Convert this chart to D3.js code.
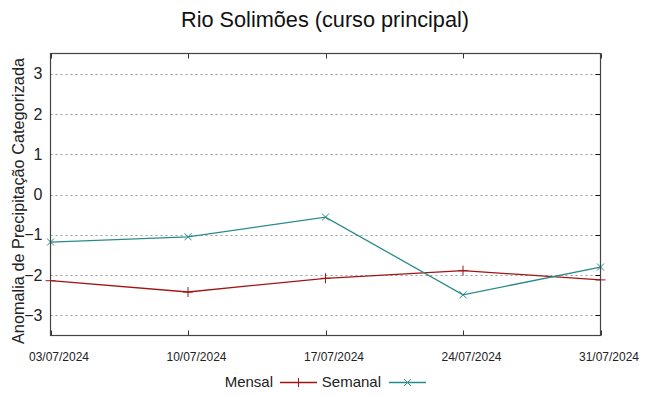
<!DOCTYPE html>
<html>
<head>
<meta charset="utf-8">
<script src="https://cdn.jsdelivr.net/npm/d3@7"></script>
<style>
  html, body { margin: 0; padding: 0; background: #fff; }
  svg { display: block; font-family: "Liberation Sans", Arial, sans-serif; }
</style>
</head>
<body>
<div id="app"></div>
<script>
// dados
const dates = ['03/07/2024', '10/07/2024', '17/07/2024', '24/07/2024', '31/07/2024']
const mensal = [-2.14, -2.42, -2.08, -1.89, -2.12]
const semanal = [-1.18, -1.05, -0.56, -2.49, -1.80]
const yTicks = [-3, -2, -1, 0, 1, 2, 3]
const seriesNames = ['Mensal', 'Semanal']

const width = 649
const height = 396
const margin = { top: 53.5, right: 48.5, bottom: 60.5, left: 50.5 }

const parse = d3.timeParse('%d/%m/%Y')
const fmt = d3.timeFormat('%d/%m/%Y')
const xDates = dates.map(parse)

const svg = d3.select('#app').append('svg').attr('width', width).attr('height', height)

const x = d3.scaleTime()
  .domain(d3.extent(xDates))
  .range([margin.left, width - margin.right])
const y = d3.scaleLinear()
  .domain([-3.5, 3.5])
  .range([height - margin.bottom, margin.top])

// título
svg.append('text')
  .attr('x', 325).attr('y', 27)
  .attr('text-anchor', 'middle')
  .attr('font-size', 21.7)
  .attr('fill', '#111')
  .text('Rio Solimões (curso principal)')

// grade
svg.append('g')
  .selectAll('line')
  .data(yTicks)
  .join('line')
  .attr('x1', margin.left).attr('x2', width - margin.right)
  .attr('y1', (d) => Math.round(y(d)) + 0.5).attr('y2', (d) => Math.round(y(d)) + 0.5)
  .attr('stroke', '#9a9a9a')
  .attr('stroke-width', 1)
  .attr('stroke-dasharray', '2,3')

// eixo y
const yAxis = svg.append('g')
  .attr('transform', `translate(${margin.left},0)`)
  .call(d3.axisLeft(y).tickValues(yTicks).tickSize(0).tickPadding(8).tickFormat(d3.format('d')))
yAxis.select('.domain').remove()
yAxis.selectAll('text').attr('font-size', 16).attr('fill', '#222').attr('font-family', 'Liberation Sans, Arial, sans-serif')

// ticks internos à direita
svg.append('g')
  .selectAll('line')
  .data(yTicks)
  .join('line')
  .attr('x1', width - margin.right - 5).attr('x2', width - margin.right)
  .attr('y1', (d) => Math.round(y(d)) + 0.5).attr('y2', (d) => Math.round(y(d)) + 0.5)
  .attr('stroke', '#111')

// eixo x
const xAxis = svg.append('g')
  .attr('transform', `translate(0,${height - margin.bottom})`)
  .call(d3.axisBottom(x).tickValues(xDates).tickSize(0).tickPadding(17).tickFormat(fmt))
xAxis.select('.domain').remove()
xAxis.selectAll('text')
  .attr('font-size', 12)
  .attr('fill', '#222')
  .attr('dx', 8)
  .attr('font-family', 'Liberation Sans, Arial, sans-serif')

// ticks internos em cima e embaixo
const xt = svg.append('g')
xt.selectAll('line.b')
  .data(xDates)
  .join('line')
  .attr('class', 'b')
  .attr('x1', (d) => Math.round(x(d)) + 0.5).attr('x2', (d) => Math.round(x(d)) + 0.5)
  .attr('y1', height - margin.bottom).attr('y2', height - margin.bottom - 5)
  .attr('stroke', '#333')
xt.selectAll('line.t')
  .data(xDates)
  .join('line')
  .attr('class', 't')
  .attr('x1', (d) => Math.round(x(d)) + 0.5).attr('x2', (d) => Math.round(x(d)) + 0.5)
  .attr('y1', margin.top).attr('y2', margin.top + 5)
  .attr('stroke', '#333')

// rótulo do eixo y
svg.append('text')
  .attr('transform', 'translate(24,201) rotate(-90)')
  .attr('text-anchor', 'middle')
  .attr('font-size', 16.3)
  .attr('fill', '#222')
  .text('Anomalia de Precipitação Categorizada')

const colors = ['#a31515', '#2a8a8a']
const series = [mensal, semanal]
const line = d3.line().x((d, i) => x(xDates[i])).y((d) => y(d))

const plus = (g, cx, cy, s, c) => {
  g.append('line').attr('x1', cx - s).attr('x2', cx + s).attr('y1', cy).attr('y2', cy).attr('stroke', c)
  g.append('line').attr('x1', cx).attr('x2', cx).attr('y1', cy - s).attr('y2', cy + s).attr('stroke', c)
}
const cross = (g, cx, cy, s, c) => {
  g.append('line').attr('x1', cx - s).attr('x2', cx + s).attr('y1', cy - s).attr('y2', cy + s).attr('stroke', c)
  g.append('line').attr('x1', cx - s).attr('x2', cx + s).attr('y1', cy + s).attr('y2', cy - s).attr('stroke', c)
}
const markers = [plus, cross]

series.forEach((vals, k) => {
  const g = svg.append('g')
  g.append('path')
    .datum(vals)
    .attr('d', line)
    .attr('fill', 'none')
    .attr('stroke', colors[k])
    .attr('stroke-width', 1.3)
  vals.forEach((v, i) => markers[k](g, x(xDates[i]), y(v), k === 0 ? 5 : 3.5, colors[k]))
})

// borda
svg.append('rect')
  .attr('x', margin.left).attr('y', margin.top)
  .attr('width', width - margin.left - margin.right)
  .attr('height', height - margin.top - margin.bottom)
  .attr('fill', 'none')
  .attr('stroke', '#444')
  .attr('stroke-width', 1.2)

// legenda
const legendPos = [{ tx: 273, lx: 280 }, { tx: 381, lx: 389 }]
const legend = svg.append('g')
seriesNames.forEach((name, k) => {
  const p = legendPos[k]
  legend.append('text')
    .attr('x', p.tx).attr('y', 387)
    .attr('text-anchor', 'end')
    .attr('font-size', 15)
    .attr('fill', '#222')
    .text(name)
  legend.append('line')
    .attr('x1', p.lx).attr('x2', p.lx + 37)
    .attr('y1', 382.5).attr('y2', 382.5)
    .attr('stroke', colors[k])
    .attr('stroke-width', 1.3)
  markers[k](legend, p.lx + 18.5, 382.5, k === 0 ? 4.5 : 3.5, colors[k])
})
</script>
</body>
</html>
